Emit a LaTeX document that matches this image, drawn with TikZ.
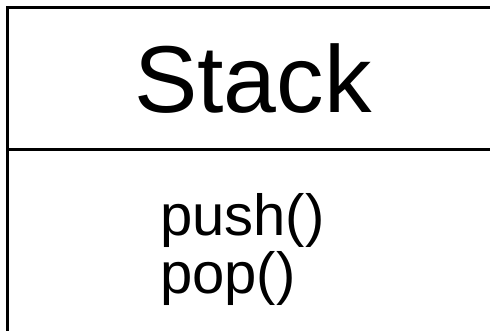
\documentclass[tikz,border=0pt]{standalone}
\usepackage{fontspec}
\setmainfont{Liberation Sans}
\begin{document}
\begin{tikzpicture}[x=1pt,y=-1pt,
  classname/.style={font=\fontsize{95}{110}\selectfont, inner sep=0pt, anchor=base},
  method/.style={font=\fontsize{58}{62}\selectfont, inner sep=0pt, anchor=base west},
  border/.style={draw=black, line width=3pt},
  divider/.style={draw=black, line width=2.5pt}]
\useasboundingbox (0,0) rectangle (490,330);
\clip (0,0) rectangle (490,330);
\coordinate (boxnw) at (7.5,7.5);
\coordinate (boxse) at (497,345);
\coordinate (divl) at (7.5,149.5);
\coordinate (divr) at (497,149.5);
\path[border] (boxnw) rectangle (boxse);
\path[divider] (divl) -- (divr);
\node[classname] (name) at (253,112) {Stack};
\node[method] (push) at (160,235) {push()};
\node[method] (pop) at (160,293) {pop()};
\end{tikzpicture}
\end{document}
